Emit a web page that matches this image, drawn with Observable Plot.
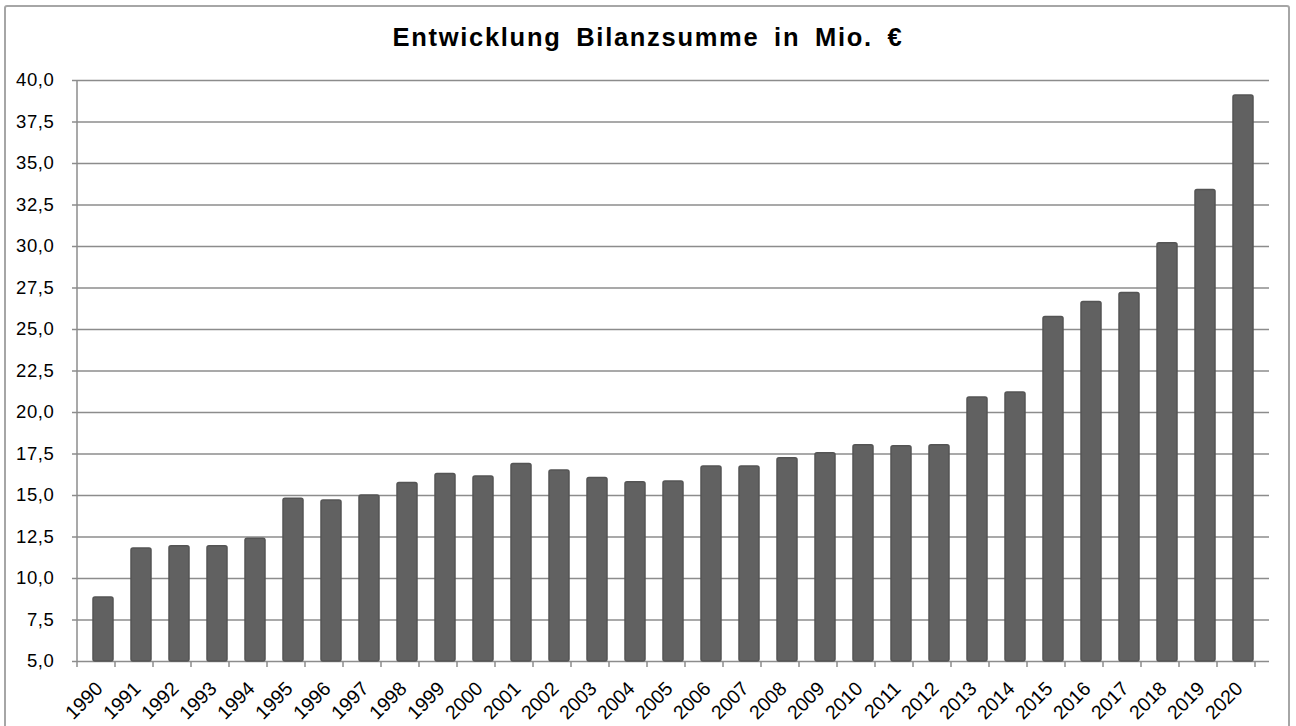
<!DOCTYPE html>
<html><head><meta charset="utf-8">
<script src="https://cdn.jsdelivr.net/npm/d3@7"></script>
<script src="https://cdn.jsdelivr.net/npm/@observablehq/plot@0.6"></script>
<style>
body{margin:0;background:#fff;font-family:"Liberation Sans",Arial,sans-serif;}
#frame{position:absolute;left:4px;top:5px;width:1286px;height:740px;border:2px solid #a6a6a6;border-radius:3px;box-sizing:border-box;}
#wrap{position:absolute;left:0;top:0;width:1296px;}
#title{height:70px;box-sizing:border-box;padding-top:25px;text-align:center;font-weight:bold;font-size:25.5px;line-height:25px;letter-spacing:1.7px;word-spacing:6px;color:#000;}
</style></head><body>
<div id="frame"></div>
<div id="wrap"><div id="title">Entwicklung Bilanzsumme in Mio. €</div><div id="chart"></div></div>
<script>
const years = ["1990","1991","1992","1993","1994","1995","1996","1997","1998","1999","2000","2001","2002","2003","2004","2005","2006","2007","2008","2009","2010","2011","2012","2013","2014","2015","2016","2017","2018","2019","2020"];
const values = [8.85,11.8,11.95,11.95,12.4,14.8,14.7,15.0,15.75,16.3,16.15,16.9,16.5,16.05,15.8,15.85,16.75,16.75,17.25,17.55,18.03,17.97,18.03,20.9,21.2,25.75,26.65,27.2,30.2,33.4,39.1];
const yTicks = [5,7.5,10,12.5,15,17.5,20,22.5,25,27.5,30,32.5,35,37.5,40];
const yDomain = [5, 40];
const data = years.map((year, i) => ({year, value: values[i]}));
const fmt = d => d.toFixed(1).replace(".", ",");
const gridColor = "#8c8c8c";
const plot = Plot.plot({
  width: 1296, height: 656,
  marginTop: 10, marginBottom: 65, marginLeft: 77, marginRight: 27,
  style: {fontFamily: '"Liberation Sans", Arial, sans-serif', background: "transparent", overflow: "visible"},
  x: {type: "band", domain: years, paddingInner: 0.48, paddingOuter: 0.24},
  y: {domain: yDomain},
  marks: [
    Plot.ruleY(yTicks, {stroke: gridColor, strokeWidth: 1.5}),
    Plot.barY(data, {x: "year", y1: yDomain[0], y2: "value", fill: "#616161", stroke: "#545454", strokeWidth: 1.5, rx: 2}),
    Plot.axisY({ticks: yTicks, tickFormat: fmt, tickSize: 5, tickPadding: 18, stroke: gridColor, strokeWidth: 1.5, fontSize: 18.5, fill: "#000", label: null}),
    Plot.axisX({tickSize: 0, tickRotate: -45, tickPadding: 24, dx: -4, fontSize: 19.5, fill: "#000", label: null})
  ]
});
document.getElementById("chart").appendChild(plot);
const svg = d3.select(plot);
// enforce label font sizes inline
const yearSet = new Set(years);
svg.selectAll("text").each(function() {
  const t = this.textContent.trim();
  if (yearSet.has(t)) d3.select(this).style("font-size", "19.5px");
  else if (/^\d+,\d$/.test(t)) d3.select(this).style("font-size", "18.5px").style("letter-spacing", "0.6px");
});
// category boundary ticks and left axis line, from the plot's own scales
const sx = plot.scale("x"), sy = plot.scale("y");
const x0 = sx.range[0], step = sx.step;
const yBase = sy.apply(yDomain[0]), yTop = sy.apply(yDomain[1]);
svg.append("g").attr("stroke", gridColor).attr("stroke-width", 1.5)
  .selectAll("line").data(d3.range(years.length + 1)).join("line")
  .attr("x1", k => x0 + k * step).attr("x2", k => x0 + k * step)
  .attr("y1", yBase).attr("y2", yBase + 6);
svg.append("line").attr("stroke", gridColor).attr("stroke-width", 1.5)
  .attr("x1", x0).attr("x2", x0).attr("y1", yTop).attr("y2", yBase);
</script>
</body></html>
